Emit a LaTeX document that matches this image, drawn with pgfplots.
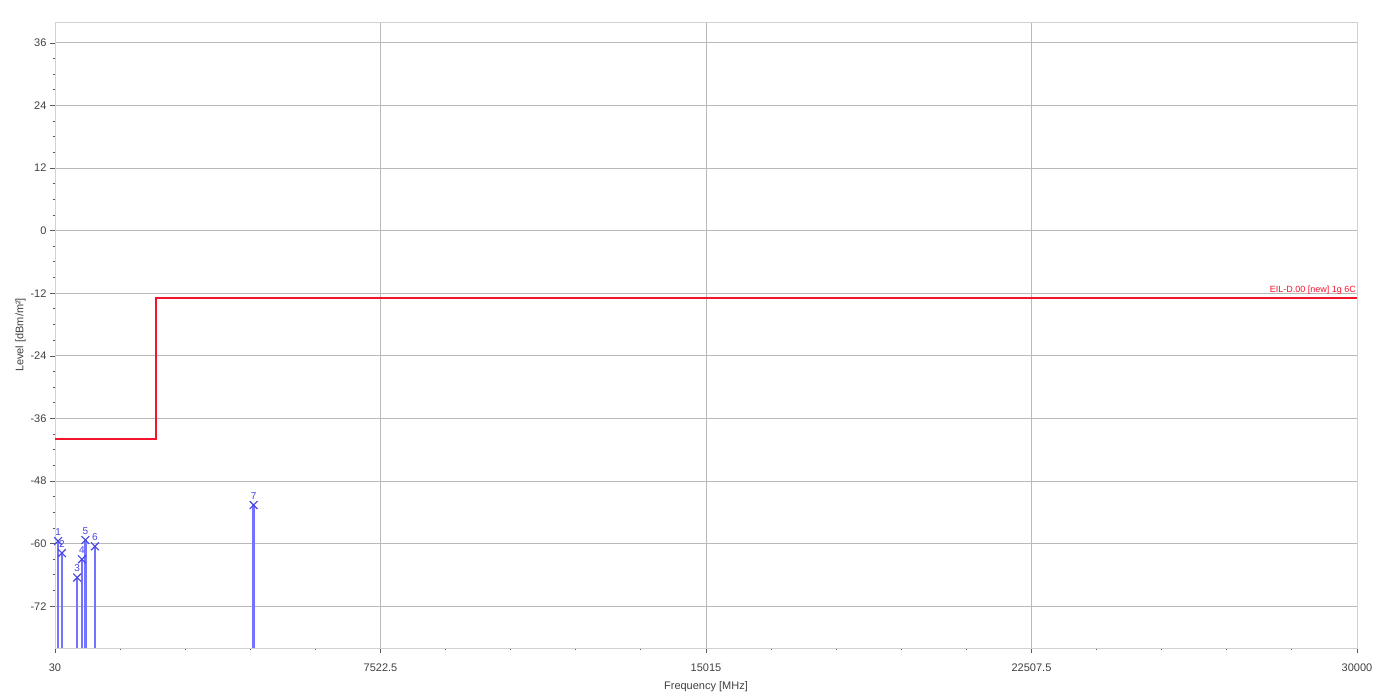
\documentclass[border=0pt]{standalone}
\usepackage{pgfplots}
\pgfplotsset{compat=1.18}
\usepackage{fontspec}
\setmainfont{Liberation Sans}
\definecolor{mk}{RGB}{70,70,225}
\definecolor{stem}{RGB}{115,115,255}
\definecolor{lim}{RGB}{245,20,45}
\begin{document}
\begin{tikzpicture}
\path (-55pt,-48pt) rectangle (1335pt,648pt);
\begin{axis}[
  at={(0pt,0pt)}, anchor=south west,
  scale only axis, width=1302pt, height=626pt,
  xmin=30, xmax=30000, ymin=-80, ymax=40,
  xtick={30,7522.5,15015,22507.5,30000},
  xticklabels={30,7522.5,15015,22507.5,30000},
  scaled x ticks=false, scaled y ticks=false,
  ytick={-72,-60,-48,-36,-24,-12,0,12,24,36},
  minor x tick num=4, minor y tick num=3,
  tick align=outside,
  major tick length=5pt, minor tick length=2pt,
  tick style={gray!70!black, line width=0.6pt},
  minor tick style={gray!70!black, line width=1pt},
  xtick pos=bottom, ytick pos=left,
  grid=major, major grid style={gray!55, line width=0.8pt},
  axis line style={gray!35},
  ticklabel style={font=\fontsize{11}{12}\selectfont, text=black!75},
  xticklabel style={yshift=-7pt},
  /pgf/number format/assume math mode=true,
  xlabel={Frequency [MHz]}, ylabel={Level [dBm/m²]},
  label style={font=\fontsize{11}{12}\selectfont, text=black!75},
  xlabel style={yshift=-3pt},
  ylabel style={yshift=-2pt},
]
% limit line
\addplot[draw=lim, line width=2pt] coordinates {(30,-40) (2350,-40) (2350,-13) (30000,-13)};
% stems
\addplot[draw=stem, line width=2.2pt] coordinates {(100,-80) (100,-59.5)};
\addplot[draw=stem, line width=2.2pt] coordinates {(190,-80) (190,-61.8)};
\addplot[draw=stem, line width=2.2pt] coordinates {(540,-80) (540,-66.5)};
\addplot[draw=stem, line width=2.2pt] coordinates {(650,-80) (650,-63)};
\addplot[draw=stem, line width=2.2pt] coordinates {(730,-80) (730,-59.3)};
\addplot[draw=stem, line width=2.2pt] coordinates {(950,-80) (950,-60.5)};
\addplot[draw=stem, line width=2.2pt] coordinates {(4600,-80) (4600,-52.6)};
% markers
\addplot[only marks, mark=x, mark size=5.5pt, draw=mk, line width=1.1pt,
  nodes near coords, point meta=explicit symbolic,
  every node near coord/.append style={font=\fontsize{10}{11}\selectfont, text=mk, anchor=south, yshift=4pt, inner sep=1pt}]
  table[meta=lab] {
x y lab
100 -59.5 1
190 -61.8 2
540 -66.5 3
650 -63 4
730 -59.3 5
950 -60.5 6
4600 -52.6 7
};
\node[anchor=south east, text=lim, font=\fontsize{9}{10}\selectfont, inner sep=1pt] at (axis cs:30000,-12.4) {EIL-D.00 [new] 1g 6C};
\end{axis}
\end{tikzpicture}
\end{document}
